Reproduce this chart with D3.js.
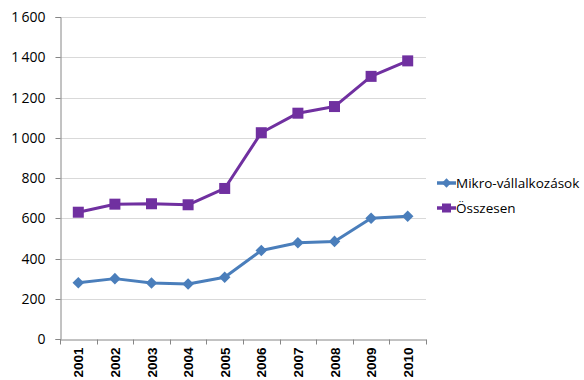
<!DOCTYPE html>
<html>
<head>
<meta charset="utf-8">
<script src="https://cdn.jsdelivr.net/npm/d3@7"></script>
<style>
  body { margin: 0; background: #fff; }
  text { font-family: 'Open Sans', 'Liberation Sans', sans-serif; fill: #000; }
</style>
</head>
<body>
<svg width="584" height="380"></svg>
<script>
const years = ["2001", "2002", "2003", "2004", "2005", "2006", "2007", "2008", "2009", "2010"]
const mikro = [280, 300, 278, 273, 307, 440, 478, 485, 600, 610]
const osszesen = [630, 670, 672, 667, 748, 1025, 1122, 1155, 1305, 1382]
const yTicks = [0, 200, 400, 600, 800, 1000, 1200, 1400, 1600]
const seriesNames = ["Mikro-vállalkozások", "Összesen"]

const svg = d3.select('svg')
const margin = { top: 17, right: 158, bottom: 41, left: 60 }
const width = +svg.attr('width')
const height = +svg.attr('height')

const xScale = d3.scaleBand()
    .domain(years)
    .range([margin.left, width - margin.right])

const yScale = d3.scaleLinear()
    .domain([0, 1600])
    .range([height - margin.bottom, margin.top])

// gridlines
svg.append('g')
    .selectAll('line').data(yTicks.slice(1)).enter()
    .append('line')
    .attr('x1', margin.left)
    .attr('x2', width - margin.right)
    .attr('y1', d => Math.round(yScale(d)) + 0.5)
    .attr('y2', d => Math.round(yScale(d)) + 0.5)
    .attr('stroke', '#d9d9d9')

// y axis
const yAxis = d3.axisLeft(yScale)
    .tickValues(yTicks)
    .tickSize(5)
    .tickPadding(10)
    .tickFormat(d => d3.format(',')(d).replace(',', '\u2009'))

const gy = svg.append('g')
    .attr('transform', 'translate(' + (margin.left + 0.5) + ', 0)')
    .call(yAxis)
gy.select('.domain').attr('stroke', '#868686')
gy.selectAll('.tick line').attr('stroke', '#868686')
gy.selectAll('text').style('font-size', '14px').style('font-family', "'Open Sans', sans-serif").attr('fill', '#000')
gy.selectAll('.tick').attr('transform', d => 'translate(0,' + (Math.round(yScale(d)) + 0.5) + ')')

// x axis
const gx = svg.append('g')
    .attr('transform', 'translate(0, ' + (height - margin.bottom + 0.5) + ')')
    .call(d3.axisBottom(xScale).tickSize(0).tickFormat(''))
gx.select('.domain').attr('stroke', '#868686')

gx.selectAll('.bound').data(years.concat(['end'])).enter()
    .append('line')
    .attr('x1', (d, i) => Math.round(margin.left + i * xScale.step()) + 0.5)
    .attr('x2', (d, i) => Math.round(margin.left + i * xScale.step()) + 0.5)
    .attr('y1', 0)
    .attr('y2', 5)
    .attr('stroke', '#868686')

gx.selectAll('.lab').data(years).enter()
    .append('text')
    .attr('transform', d => 'translate(' + (xScale(d) + xScale.bandwidth() / 2 + 5) + ', 8) rotate(-90)')
    .attr('text-anchor', 'end')
    .style('font-size', '13.5px')
    .style('font-weight', 'bold')
    .style('font-family', "'Liberation Sans', Arial, sans-serif")
    .text(d => d)

const xPos = d => xScale(d) + xScale.bandwidth() / 2

const line = d3.line()
    .x((d, i) => xPos(years[i]))
    .y(d => yScale(d))

const colours = ['#4a7ebb', '#7030a0']

// Mikro series
svg.append('path')
    .datum(mikro)
    .attr('d', line)
    .attr('fill', 'none')
    .attr('stroke', colours[0])
    .attr('stroke-width', 3)
    .attr('stroke-linejoin', 'round')

const diamond = d3.symbol().type(d3.symbolDiamond2).size(85)
svg.selectAll('.dmark').data(mikro).enter()
    .append('path')
    .attr('d', diamond)
    .attr('transform', (d, i) => 'translate(' + xPos(years[i]) + ',' + yScale(d) + ')')
    .attr('fill', colours[0])

// Összesen series
svg.append('path')
    .datum(osszesen)
    .attr('d', line)
    .attr('fill', 'none')
    .attr('stroke', colours[1])
    .attr('stroke-width', 3)
    .attr('stroke-linejoin', 'round')

svg.selectAll('.smark').data(osszesen).enter()
    .append('rect')
    .attr('x', (d, i) => xPos(years[i]) - 5.5)
    .attr('y', d => yScale(d) - 5.5)
    .attr('width', 11)
    .attr('height', 11)
    .attr('fill', colours[1])

// legend
const legend = svg.append('g')
    .attr('transform', 'translate(437, 183)')

seriesNames.forEach((name, i) => {
    const g = legend.append('g').attr('transform', 'translate(0,' + (i * 25) + ')')
    g.append('line')
        .attr('x1', 0).attr('x2', 19)
        .attr('stroke', colours[i])
        .attr('stroke-width', 3.5)
    if (i === 0) {
        g.append('path')
            .attr('d', d3.symbol().type(d3.symbolDiamond2).size(55))
            .attr('transform', 'translate(9.5,0)')
            .attr('fill', colours[i])
    } else {
        g.append('rect')
            .attr('x', 5).attr('y', -4.5)
            .attr('width', 9).attr('height', 9)
            .attr('fill', colours[i])
    }
    g.append('text')
        .attr('x', 19)
        .attr('dy', '0.35em')
        .style('font-size', '13.5px')
        .text(name)
})
</script>
</body>
</html>
